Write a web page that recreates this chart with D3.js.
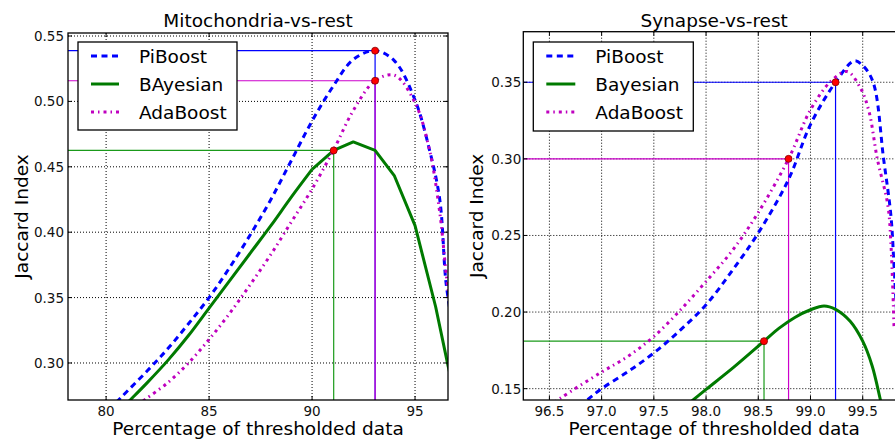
<!DOCTYPE html>
<html>
<head>
<meta charset="utf-8">
<script src="https://cdn.jsdelivr.net/npm/d3@7"></script>
<style>
  body { margin: 0; background: #fff; }
  svg { display: block; font-family: "DejaVu Sans", sans-serif; }
</style>
</head>
<body>
<div id="chart"></div>
<script>
// ---- Mitochondria-vs-rest ----
const mitoPiX = [80.5, 80.76, 82, 83, 84, 85, 86, 87, 88, 89, 90, 91, 92, 93.06, 94, 95, 95.7, 96.2, 96.5, 96.8];
const mitoPiY = [0.270, 0.2742, 0.294, 0.311, 0.330, 0.350, 0.373, 0.398, 0.425, 0.455, 0.485, 0.511, 0.532, 0.5388, 0.531, 0.501, 0.463, 0.425, 0.362, 0.33];
const mitoBaX = [81.0, 81.17, 82, 83, 84, 85, 86, 87, 88, 89, 90, 91.05, 92, 93.06, 94, 95, 96, 96.6, 96.8];
const mitoBaY = [0.269, 0.2717, 0.285, 0.302, 0.321, 0.342, 0.363, 0.384, 0.405, 0.427, 0.448, 0.4625, 0.469, 0.4625, 0.443, 0.405, 0.343, 0.298, 0.285];
const mitoAdX = [81.8, 81.97, 83, 84, 85, 86, 87, 88, 89, 90, 91.05, 92, 93.06, 94, 95, 95.7, 96.2, 96.5, 96.8];
const mitoAdY = [0.271, 0.273, 0.285, 0.300, 0.318, 0.338, 0.360, 0.383, 0.408, 0.433, 0.463, 0.493, 0.5158, 0.520, 0.499, 0.463, 0.415, 0.37, 0.33];
const mitoXTicks = [80, 85, 90, 95];
const mitoYTicks = [0.30, 0.35, 0.40, 0.45, 0.50, 0.55];
// best points: [x, y] per series
const mitoBest = { pi: [93.06, 0.5388], ba: [91.05, 0.4625], ad: [93.06, 0.5158] };

// ---- Synapse-vs-rest ----
const synPiX = [96.7, 96.86, 97.0, 97.25, 97.5, 97.75, 98.0, 98.25, 98.5, 98.79, 99.0, 99.24, 99.42, 99.5, 99.6, 99.7, 99.77, 99.8, 99.84];
const synPiY = [0.135, 0.1426, 0.150, 0.161, 0.1733, 0.188, 0.2048, 0.227, 0.2516, 0.2866, 0.3224, 0.350, 0.364, 0.361, 0.350, 0.300, 0.263, 0.23, 0.18];
const synBaX = [97.7, 97.876, 98.0, 98.26, 98.555, 98.7, 98.85, 99.0, 99.13, 99.24, 99.38, 99.5, 99.59, 99.67, 99.72];
const synBaY = [0.133, 0.1426, 0.1495, 0.1637, 0.181, 0.1895, 0.1965, 0.2015, 0.204, 0.2018, 0.194, 0.181, 0.165, 0.1426, 0.128];
const synAdX = [96.45, 96.6, 96.98, 97.25, 97.5, 97.75, 98.0, 98.25, 98.5, 98.79, 99.0, 99.2, 99.35, 99.48, 99.56, 99.64, 99.74, 99.77, 99.8];
const synAdY = [0.136, 0.1435, 0.160, 0.171, 0.184, 0.201, 0.220, 0.240, 0.265, 0.300, 0.332, 0.351, 0.357, 0.346, 0.331, 0.300, 0.270, 0.245, 0.19];
const synXTicks = [96.5, 97.0, 97.5, 98.0, 98.5, 99.0, 99.5];
const synYTicks = [0.15, 0.20, 0.25, 0.30, 0.35];
const synBest = { pi: [99.24, 0.350], ba: [98.555, 0.181], ad: [98.79, 0.300] };

const seriesStyle = {
  pi: { color: "#0000ff", thin: "#0000ff", width: 3, dash: "6,4.5" },
  ba: { color: "#007a00", thin: "#1a9a1a", width: 3, dash: null },
  ad: { color: "#bf00bf", thin: "#cc00cc", width: 3, dash: "3,4,1.5,4" }
};

const smooth = d3.curveCatmullRom.alpha(0.5);

const svg = d3.select("#chart").append("svg")
  .attr("width", 895)
  .attr("height", 444);

function zip(xs, ys) { return xs.map((x, i) => [x, ys[i]]); }

function drawPanel(cfg) {
  const x = d3.scaleLinear().domain(cfg.xDomain).range([cfg.left, cfg.right]);
  const y = d3.scaleLinear().domain(cfg.yDomain).range([cfg.bottom, cfg.top]);
  const g = svg.append("g");

  const clipId = "clip-" + cfg.id;
  svg.append("clipPath").attr("id", clipId)
    .append("rect")
    .attr("x", cfg.left).attr("y", cfg.top)
    .attr("width", cfg.right - cfg.left).attr("height", cfg.bottom - cfg.top);

  // dotted grid
  g.append("g").selectAll("line").data(cfg.xTicks).join("line")
    .attr("x1", d => x(d)).attr("x2", d => x(d))
    .attr("y1", cfg.top).attr("y2", cfg.bottom)
    .attr("stroke", "#000").attr("stroke-width", 1).attr("stroke-dasharray", "1,2");
  g.append("g").selectAll("line").data(cfg.yTicks).join("line")
    .attr("x1", cfg.left).attr("x2", cfg.right)
    .attr("y1", d => y(d)).attr("y2", d => y(d))
    .attr("stroke", "#000").attr("stroke-width", 1).attr("stroke-dasharray", "1,2");

  const plot = g.append("g").attr("clip-path", `url(#${clipId})`);

  // reference lines to the best points
  ["pi", "ba", "ad"].forEach(k => {
    const p = cfg.best[k];
    plot.append("line")
      .attr("x1", cfg.left).attr("x2", x(p[0]))
      .attr("y1", y(p[1])).attr("y2", y(p[1]))
      .attr("stroke", seriesStyle[k].thin).attr("stroke-width", 1.2);
    plot.append("line")
      .attr("x1", x(p[0])).attr("x2", x(p[0]))
      .attr("y1", y(p[1])).attr("y2", cfg.bottom)
      .attr("stroke", seriesStyle[k].thin).attr("stroke-width", 1.2);
  });

  ["pi", "ba", "ad"].forEach(k => {
    const st = seriesStyle[k];
    const pts = cfg.series[k];
    // a series can be smooth up to some x and straight segments after it
    const split = cfg.linearFrom[k];
    const parts = split == null
      ? [[pts, smooth]]
      : [[pts.filter(d => d[0] <= split), smooth], [pts.filter(d => d[0] >= split), d3.curveLinear]];
    parts.forEach(([data, curve]) => {
      const line = d3.line().x(d => x(d[0])).y(d => y(d[1])).curve(curve);
      const path = plot.append("path")
        .attr("d", line(data))
        .attr("fill", "none")
        .attr("stroke", st.color)
        .attr("stroke-width", st.width)
        .attr("stroke-linejoin", "round");
      if (st.dash) path.attr("stroke-dasharray", st.dash);
    });
  });

  ["pi", "ba", "ad"].forEach(k => {
    const p = cfg.best[k];
    plot.append("circle")
      .attr("cx", x(p[0])).attr("cy", y(p[1])).attr("r", 3.5)
      .attr("fill", "#ff0000").attr("stroke", "#800000").attr("stroke-width", 0.8);
  });

  // frame
  g.append("rect")
    .attr("x", cfg.left).attr("y", cfg.top)
    .attr("width", cfg.right - cfg.left).attr("height", cfg.bottom - cfg.top)
    .attr("fill", "none").attr("stroke", "#000").attr("stroke-width", 1.3);

  // inward tick marks
  cfg.xTicks.forEach(t => {
    g.append("line").attr("x1", x(t)).attr("x2", x(t)).attr("y1", cfg.bottom).attr("y2", cfg.bottom - 4).attr("stroke", "#000");
    g.append("line").attr("x1", x(t)).attr("x2", x(t)).attr("y1", cfg.top).attr("y2", cfg.top + 4).attr("stroke", "#000");
  });
  cfg.yTicks.forEach(t => {
    g.append("line").attr("x1", cfg.left).attr("x2", cfg.left + 4).attr("y1", y(t)).attr("y2", y(t)).attr("stroke", "#000");
    g.append("line").attr("x1", cfg.right).attr("x2", cfg.right - 4).attr("y1", y(t)).attr("y2", y(t)).attr("stroke", "#000");
  });

  // tick labels
  g.append("g").selectAll("text").data(cfg.xTicks).join("text")
    .attr("x", d => x(d)).attr("y", cfg.bottom + 16)
    .attr("text-anchor", "middle").attr("font-size", 13.5).attr("fill", "#111")
    .text(d => cfg.xFmt(d));
  g.append("g").selectAll("text").data(cfg.yTicks).join("text")
    .attr("x", cfg.left - cfg.yPad).attr("y", d => y(d))
    .attr("text-anchor", "end").attr("dominant-baseline", "central")
    .attr("font-size", 13.5).attr("fill", "#111")
    .text(d => d3.format(".2f")(d));

  // titles and axis labels
  const cx = (cfg.left + cfg.right) / 2;
  g.append("text").attr("x", cx).attr("y", 26.5)
    .attr("text-anchor", "middle").attr("font-size", 18.5).text(cfg.title);
  g.append("text").attr("x", cx).attr("y", 435)
    .attr("text-anchor", "middle").attr("font-size", 18.5).text("Percentage of thresholded data");
  g.append("text")
    .attr("transform", `translate(${cfg.yLabelX},${(cfg.top + cfg.bottom) / 2}) rotate(-90)`)
    .attr("text-anchor", "middle").attr("dominant-baseline", "central")
    .attr("font-size", 18.5).text("Jaccard Index");

  // legend
  const lg = cfg.legend;
  g.append("rect")
    .attr("x", lg.x).attr("y", lg.y).attr("width", lg.w).attr("height", lg.h)
    .attr("fill", "#fff").attr("stroke", "#000").attr("stroke-width", 1.3);
  ["pi", "ba", "ad"].forEach((k, i) => {
    const st = seriesStyle[k];
    const ry = lg.y + 14 + i * 28;
    const s = g.append("line")
      .attr("x1", lg.x + lg.sampleX0).attr("x2", lg.x + lg.sampleX1)
      .attr("y1", ry).attr("y2", ry)
      .attr("stroke", st.color).attr("stroke-width", st.width);
    if (st.dash) s.attr("stroke-dasharray", st.dash);
    g.append("text")
      .attr("x", lg.x + lg.textX).attr("y", ry)
      .attr("dominant-baseline", "central").attr("font-size", 18.5)
      .text(cfg.labels[i]);
  });
}

drawPanel({
  id: "mito",
  title: "Mitochondria-vs-rest",
  left: 68, right: 448, top: 33, bottom: 400,
  xDomain: [78.15, 96.6], yDomain: [0.2717, 0.5523],
  xTicks: mitoXTicks, yTicks: mitoYTicks,
  xFmt: d3.format("d"),
  yPad: 4, yLabelX: 21,
  series: { pi: zip(mitoPiX, mitoPiY), ba: zip(mitoBaX, mitoBaY), ad: zip(mitoAdX, mitoAdY) },
  linearFrom: { pi: null, ba: 90, ad: null },
  best: mitoBest,
  labels: ["PiBoost", "BAyesian", "AdaBoost"],
  legend: { x: 78, y: 42, w: 159, h: 88, sampleX0: 13, sampleX1: 41, textX: 61 }
});

drawPanel({
  id: "syn",
  title: "Synapse-vs-rest",
  left: 523.3, right: 905, top: 31.7, bottom: 400,
  xDomain: [96.25, 99.905], yDomain: [0.1426, 0.383],
  xTicks: synXTicks, yTicks: synYTicks,
  xFmt: d3.format(".1f"),
  yPad: 2, yLabelX: 476,
  series: { pi: zip(synPiX, synPiY), ba: zip(synBaX, synBaY), ad: zip(synAdX, synAdY) },
  linearFrom: { pi: null, ba: null, ad: null },
  best: synBest,
  labels: ["PiBoost", "Bayesian", "AdaBoost"],
  legend: { x: 533.3, y: 42, w: 160, h: 89, sampleX0: 13, sampleX1: 42, textX: 62 }
});
</script>
</body>
</html>
